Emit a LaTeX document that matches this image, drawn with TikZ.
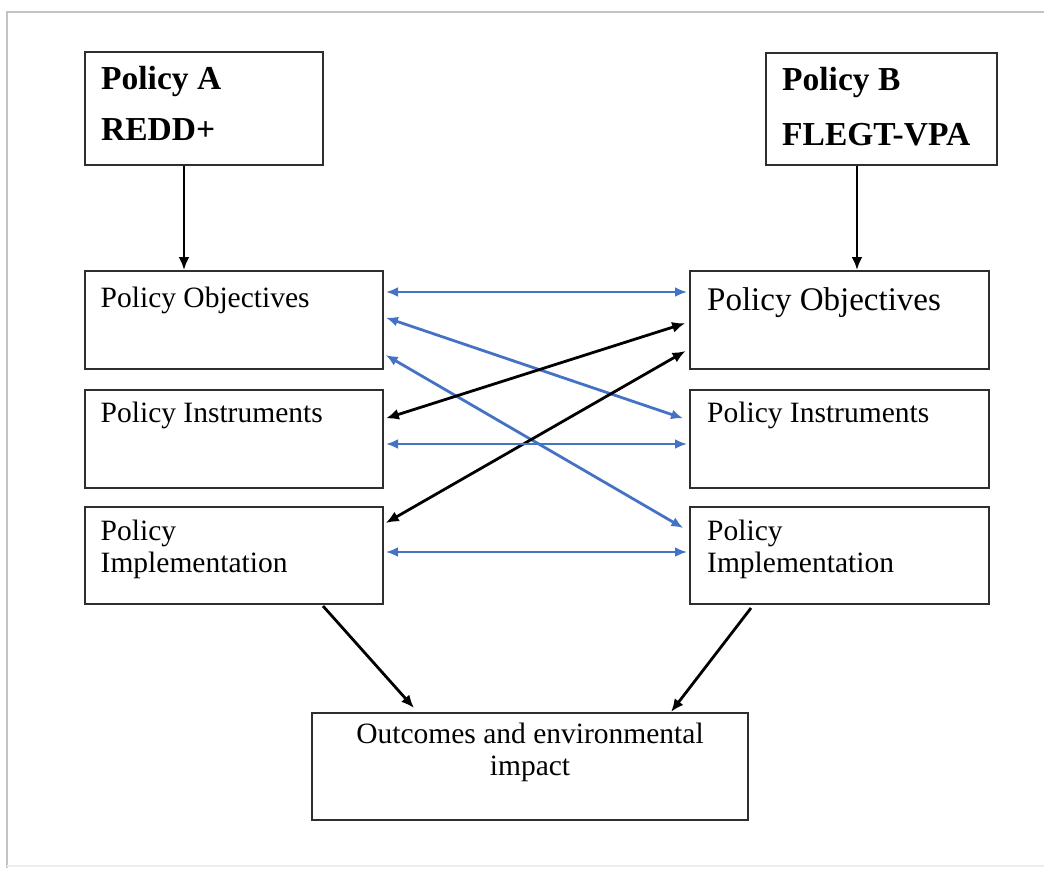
\documentclass[tikz,border=0pt]{standalone}
\usepackage{fontspec}
\setmainfont{Liberation Serif}
\usetikzlibrary{arrows.meta}
\definecolor{linkblue}{HTML}{4472C4}
\definecolor{boxgray}{HTML}{2E2E2E}
\definecolor{framegray}{HTML}{C4C4C4}
\tikzset{
  box/.style={draw=boxgray, line width=2pt, minimum width=#1, inner sep=0pt},
  txt/.style={anchor=base west, inner sep=0pt, align=left, font=\fontsize{29.5}{32}\selectfont},
  btxt/.style={anchor=base west, inner sep=0pt, align=left, font=\fontsize{33.5}{51}\selectfont\bfseries},
  blk/.style={draw=black, line width=2.8pt, -{Latex[length=13pt,width=11pt]}},
  blkboth/.style={draw=black, line width=2.8pt, {Latex[length=13pt,width=11pt]}-{Latex[length=13pt,width=11pt]}, shorten <=2pt, shorten >=4pt},
  blueboth/.style={draw=linkblue, line width=2.8pt, {Latex[length=12pt,width=10pt]}-{Latex[length=12pt,width=10pt]}, shorten <=2pt, shorten >=2pt},
}
\begin{document}
\begin{tikzpicture}[x=1pt,y=-1pt]
\useasboundingbox (0,0) rectangle (1044,868);
% frame
\draw[framegray, line width=2.5pt] (7,868) -- (7,12) -- (1044,12);
\draw[black!7, line width=1.5pt] (7,866) -- (1044,866);

% top policy boxes
\node[box=238pt, minimum height=113pt] (polA) at (204,108.5) {};
\node[box=231pt, minimum height=112pt] (polB) at (881.5,109) {};
\node[btxt] (polAt) at (101,140) {Policy A\\REDD+};
\node[btxt, font=\fontsize{33.5}{55}\selectfont\bfseries] (polBt) at (782,145) {Policy B\\FLEGT-VPA};

% left column
\node[box=298pt, minimum height=98pt] (poL) at (234,320) {};
\node[box=298pt, minimum height=98pt] (piL) at (234,439) {};
\node[box=298pt, minimum height=97pt] (pmL) at (234,555.5) {};
\node[txt] (poLt) at (100.5,307) {Policy Objectives};
\node[txt] (piLt) at (100.5,422) {Policy Instruments};
\node[txt] (pmLt) at (100.5,572) {Policy\\Implementation};

% right column
\node[box=299pt, minimum height=98pt] (poR) at (839.5,320) {};
\node[box=299pt, minimum height=98pt] (piR) at (839.5,439) {};
\node[box=299pt, minimum height=97pt] (pmR) at (839.5,555.5) {};
\node[txt, font=\fontsize{33}{36}\selectfont] (poRt) at (707,310) {Policy Objectives};
\node[txt] (piRt) at (707,422) {Policy Instruments};
\node[txt] (pmRt) at (707,572) {Policy\\Implementation};

% outcomes
\node[box=436pt, minimum height=107pt] (out) at (530,766.5) {};
\node[anchor=base, inner sep=0pt, align=center, font=\fontsize{29.5}{32}\selectfont] (outt) at (530,775) {Outcomes and environmental\\impact};

% vertical arrows
\coordinate (aA) at ([xshift=-20pt]polA.south);
\coordinate (aB) at ([xshift=-24.5pt]polB.south);
\draw[blk] (aA) -- (aA |- poL.north);
\draw[blk] (aB) -- (aB |- poR.north);

% horizontal / crossing links
\draw[blueboth] ([yshift=-22pt]poL.north east) -- ([yshift=-22pt]poR.north west);
\draw[blueboth] ([yshift=-47pt]poL.north east) -- ([yshift=-30pt,xshift=-4pt]piR.north west);
\draw[blueboth] ([yshift=-84pt]poL.north east) -- ([yshift=-23pt,xshift=-4pt]pmR.north west);
\draw[blkboth] ([yshift=-30pt]piL.north east) -- ([yshift=-52pt]poR.north west);
\draw[blkboth] ([yshift=-18pt]pmL.north east) -- ([yshift=-79pt]poR.north west);
\draw[blueboth] ([yshift=-55pt]piL.north east) -- ([yshift=-55pt]piR.north west);
\draw[blueboth] ([yshift=-46pt]pmL.north east) -- ([yshift=-46pt]pmR.north west);

% to outcomes
\draw[blk] ([xshift=-61pt,yshift=-1pt]pmL.south east) -- ([xshift=103pt,yshift=4pt]out.north west);
\draw[blk] ([xshift=62pt,yshift=-3pt]pmR.south west) -- ([xshift=-78pt]out.north east);
\end{tikzpicture}
\end{document}
